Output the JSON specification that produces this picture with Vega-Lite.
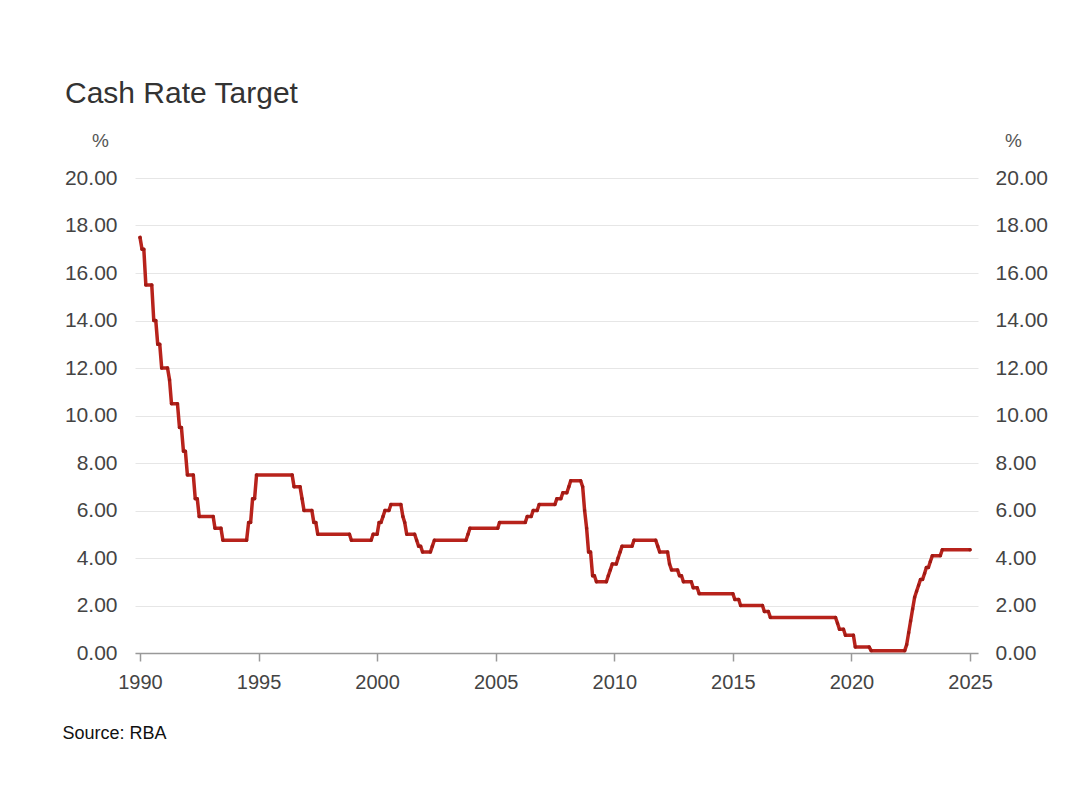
{
  "$schema": "https://vega.github.io/schema/vega-lite/v6.json",
  "autosize": {"type": "none"},
  "width": 843,
  "height": 475,
  "padding": {"left": 135, "top": 178, "right": 102, "bottom": 144},
  "background": "white",
  "config": {
    "font": "Liberation Sans",
    "view": {"stroke": null},
    "axis": {"labelFont": "Liberation Sans", "titleFont": "Liberation Sans"}
  },
  "title": {
    "text": "Cash Rate Target",
    "anchor": "start",
    "frame": "group",
    "orient": "top",
    "fontSize": 30,
    "fontWeight": "normal",
    "color": "#333333",
    "dx": -70,
    "offset": 22,
    "font": "Liberation Sans"
  },
  "data": {
    "values": [
      {"date": "1990-01-01", "rate": 17.50},
      {"date": "1990-02-01", "rate": 17.00},
      {"date": "1990-03-01", "rate": 17.00},
      {"date": "1990-04-01", "rate": 15.50},
      {"date": "1990-07-01", "rate": 15.50},
      {"date": "1990-08-01", "rate": 14.00},
      {"date": "1990-09-01", "rate": 14.00},
      {"date": "1990-10-01", "rate": 13.00},
      {"date": "1990-11-01", "rate": 13.00},
      {"date": "1990-12-01", "rate": 12.00},
      {"date": "1991-03-01", "rate": 12.00},
      {"date": "1991-04-01", "rate": 11.50},
      {"date": "1991-05-01", "rate": 10.50},
      {"date": "1991-08-01", "rate": 10.50},
      {"date": "1991-09-01", "rate": 9.50},
      {"date": "1991-10-01", "rate": 9.50},
      {"date": "1991-11-01", "rate": 8.50},
      {"date": "1991-12-01", "rate": 8.50},
      {"date": "1992-01-01", "rate": 7.50},
      {"date": "1992-04-01", "rate": 7.50},
      {"date": "1992-05-01", "rate": 6.50},
      {"date": "1992-06-01", "rate": 6.50},
      {"date": "1992-07-01", "rate": 5.75},
      {"date": "1993-02-01", "rate": 5.75},
      {"date": "1993-03-01", "rate": 5.25},
      {"date": "1993-06-01", "rate": 5.25},
      {"date": "1993-07-01", "rate": 4.75},
      {"date": "1994-07-01", "rate": 4.75},
      {"date": "1994-08-01", "rate": 5.50},
      {"date": "1994-09-01", "rate": 5.50},
      {"date": "1994-10-01", "rate": 6.50},
      {"date": "1994-11-01", "rate": 6.50},
      {"date": "1994-12-01", "rate": 7.50},
      {"date": "1996-06-01", "rate": 7.50},
      {"date": "1996-07-01", "rate": 7.00},
      {"date": "1996-10-01", "rate": 7.00},
      {"date": "1996-11-01", "rate": 6.50},
      {"date": "1996-12-01", "rate": 6.00},
      {"date": "1997-04-01", "rate": 6.00},
      {"date": "1997-05-01", "rate": 5.50},
      {"date": "1997-06-01", "rate": 5.50},
      {"date": "1997-07-01", "rate": 5.00},
      {"date": "1998-11-01", "rate": 5.00},
      {"date": "1998-12-01", "rate": 4.75},
      {"date": "1999-10-01", "rate": 4.75},
      {"date": "1999-11-01", "rate": 5.00},
      {"date": "2000-01-01", "rate": 5.00},
      {"date": "2000-02-01", "rate": 5.50},
      {"date": "2000-03-01", "rate": 5.50},
      {"date": "2000-04-01", "rate": 5.75},
      {"date": "2000-05-01", "rate": 6.00},
      {"date": "2000-07-01", "rate": 6.00},
      {"date": "2000-08-01", "rate": 6.25},
      {"date": "2001-01-01", "rate": 6.25},
      {"date": "2001-02-01", "rate": 5.75},
      {"date": "2001-03-01", "rate": 5.50},
      {"date": "2001-04-01", "rate": 5.00},
      {"date": "2001-08-01", "rate": 5.00},
      {"date": "2001-09-01", "rate": 4.75},
      {"date": "2001-10-01", "rate": 4.50},
      {"date": "2001-11-01", "rate": 4.50},
      {"date": "2001-12-01", "rate": 4.25},
      {"date": "2002-04-01", "rate": 4.25},
      {"date": "2002-05-01", "rate": 4.50},
      {"date": "2002-06-01", "rate": 4.75},
      {"date": "2003-10-01", "rate": 4.75},
      {"date": "2003-11-01", "rate": 5.00},
      {"date": "2003-12-01", "rate": 5.25},
      {"date": "2005-02-01", "rate": 5.25},
      {"date": "2005-03-01", "rate": 5.50},
      {"date": "2006-04-01", "rate": 5.50},
      {"date": "2006-05-01", "rate": 5.75},
      {"date": "2006-07-01", "rate": 5.75},
      {"date": "2006-08-01", "rate": 6.00},
      {"date": "2006-10-01", "rate": 6.00},
      {"date": "2006-11-01", "rate": 6.25},
      {"date": "2007-07-01", "rate": 6.25},
      {"date": "2007-08-01", "rate": 6.50},
      {"date": "2007-10-01", "rate": 6.50},
      {"date": "2007-11-01", "rate": 6.75},
      {"date": "2008-01-01", "rate": 6.75},
      {"date": "2008-02-01", "rate": 7.00},
      {"date": "2008-03-01", "rate": 7.25},
      {"date": "2008-08-01", "rate": 7.25},
      {"date": "2008-09-01", "rate": 7.00},
      {"date": "2008-10-01", "rate": 6.00},
      {"date": "2008-11-01", "rate": 5.25},
      {"date": "2008-12-01", "rate": 4.25},
      {"date": "2009-01-01", "rate": 4.25},
      {"date": "2009-02-01", "rate": 3.25},
      {"date": "2009-03-01", "rate": 3.25},
      {"date": "2009-04-01", "rate": 3.00},
      {"date": "2009-09-01", "rate": 3.00},
      {"date": "2009-10-01", "rate": 3.25},
      {"date": "2009-11-01", "rate": 3.50},
      {"date": "2009-12-01", "rate": 3.75},
      {"date": "2010-02-01", "rate": 3.75},
      {"date": "2010-03-01", "rate": 4.00},
      {"date": "2010-04-01", "rate": 4.25},
      {"date": "2010-05-01", "rate": 4.50},
      {"date": "2010-10-01", "rate": 4.50},
      {"date": "2010-11-01", "rate": 4.75},
      {"date": "2011-10-01", "rate": 4.75},
      {"date": "2011-11-01", "rate": 4.50},
      {"date": "2011-12-01", "rate": 4.25},
      {"date": "2012-04-01", "rate": 4.25},
      {"date": "2012-05-01", "rate": 3.75},
      {"date": "2012-06-01", "rate": 3.50},
      {"date": "2012-09-01", "rate": 3.50},
      {"date": "2012-10-01", "rate": 3.25},
      {"date": "2012-11-01", "rate": 3.25},
      {"date": "2012-12-01", "rate": 3.00},
      {"date": "2013-04-01", "rate": 3.00},
      {"date": "2013-05-01", "rate": 2.75},
      {"date": "2013-07-01", "rate": 2.75},
      {"date": "2013-08-01", "rate": 2.50},
      {"date": "2015-01-01", "rate": 2.50},
      {"date": "2015-02-01", "rate": 2.25},
      {"date": "2015-04-01", "rate": 2.25},
      {"date": "2015-05-01", "rate": 2.00},
      {"date": "2016-04-01", "rate": 2.00},
      {"date": "2016-05-01", "rate": 1.75},
      {"date": "2016-07-01", "rate": 1.75},
      {"date": "2016-08-01", "rate": 1.50},
      {"date": "2019-05-01", "rate": 1.50},
      {"date": "2019-06-01", "rate": 1.25},
      {"date": "2019-07-01", "rate": 1.00},
      {"date": "2019-09-01", "rate": 1.00},
      {"date": "2019-10-01", "rate": 0.75},
      {"date": "2020-02-01", "rate": 0.75},
      {"date": "2020-03-01", "rate": 0.25},
      {"date": "2020-10-01", "rate": 0.25},
      {"date": "2020-11-01", "rate": 0.10},
      {"date": "2022-04-01", "rate": 0.10},
      {"date": "2022-05-01", "rate": 0.35},
      {"date": "2022-06-01", "rate": 0.85},
      {"date": "2022-07-01", "rate": 1.35},
      {"date": "2022-08-01", "rate": 1.85},
      {"date": "2022-09-01", "rate": 2.35},
      {"date": "2022-10-01", "rate": 2.60},
      {"date": "2022-11-01", "rate": 2.85},
      {"date": "2022-12-01", "rate": 3.10},
      {"date": "2023-01-01", "rate": 3.10},
      {"date": "2023-02-01", "rate": 3.35},
      {"date": "2023-03-01", "rate": 3.60},
      {"date": "2023-04-01", "rate": 3.60},
      {"date": "2023-05-01", "rate": 3.85},
      {"date": "2023-06-01", "rate": 4.10},
      {"date": "2023-10-01", "rate": 4.10},
      {"date": "2023-11-01", "rate": 4.35},
      {"date": "2025-01-01", "rate": 4.35}
    ]
  },
  "encoding": {
    "x": {
      "field": "date",
      "type": "temporal",
      "scale": {"domain": ["1989-10-16", "2025-05-04"], "nice": false},
      "axis": {
        "values": ["1990-01-01", "1995-01-01", "2000-01-01", "2005-01-01", "2010-01-01", "2015-01-01", "2020-01-01", "2025-01-01"],
        "format": "%Y",
        "grid": false,
        "domainColor": "#999999",
        "domainWidth": 1.5,
        "tickColor": "#999999",
        "tickSize": 8,
        "tickWidth": 1.5,
        "labelFontSize": 20,
        "labelColor": "#444444",
        "labelPadding": 11,
        "labelFlush": false,
        "title": "Source: RBA",
        "titleFontSize": 18,
        "titleFontWeight": "normal",
        "titleColor": "#111111",
        "titleAnchor": "start",
        "titleAlign": "left",
        "titleBaseline": "middle",
        "titleX": -73,
        "titleY": 80
      }
    }
  },
  "layer": [
    {
      "mark": {"type": "line", "color": "#b8231c", "strokeWidth": 3.5, "strokeJoin": "round", "strokeCap": "round", "point": {"filled": true, "size": 12, "color": "#9e1a14"}},
      "encoding": {
        "y": {
          "field": "rate",
          "type": "quantitative",
          "scale": {"domain": [0, 20], "nice": false},
          "axis": {
            "orient": "left",
            "values": [0, 2, 4, 6, 8, 10, 12, 14, 16, 18, 20],
            "format": ".2f",
            "domain": false,
            "ticks": false,
            "gridColor": "#e6e6e6",
            "gridWidth": 1,
            "labelFontSize": 21,
            "labelColor": "#444444",
            "labelPadding": 18,
            "title": "%",
            "titleAngle": 0,
            "titleFontSize": 19,
            "titleFontWeight": "normal",
            "titleColor": "#555555",
            "titleAlign": "center",
            "titleBaseline": "middle",
            "titleX": -35,
            "titleY": -38
          }
        }
      }
    },
    {
      "mark": {"type": "line", "strokeOpacity": 0},
      "encoding": {
        "y": {
          "field": "rate",
          "type": "quantitative",
          "scale": {"domain": [0, 20], "nice": false},
          "axis": {
            "orient": "right",
            "values": [0, 2, 4, 6, 8, 10, 12, 14, 16, 18, 20],
            "format": ".2f",
            "domain": false,
            "ticks": false,
            "grid": false,
            "labelFontSize": 21,
            "labelColor": "#444444",
            "labelPadding": 17,
            "title": "%",
            "titleAngle": 0,
            "titleFontSize": 19,
            "titleFontWeight": "normal",
            "titleColor": "#555555",
            "titleAlign": "center",
            "titleBaseline": "middle",
            "titleX": 35,
            "titleY": -38
          }
        }
      }
    }
  ],
  "resolve": {"axis": {"y": "independent"}}
}
